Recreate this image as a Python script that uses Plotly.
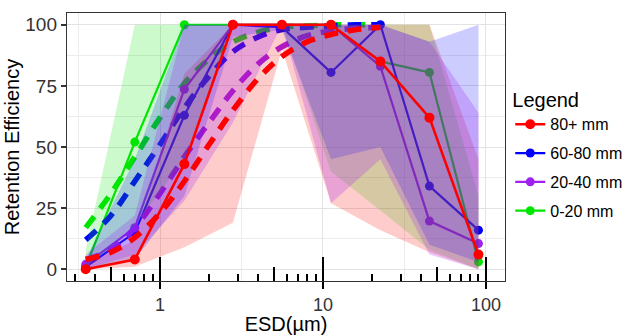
import plotly.graph_objects as go

# ---------------- data ----------------
esd = [0.35, 0.7, 1.41, 2.8, 5.6, 11.2, 22.5, 45, 90]

red_mean = [0, 4, 43, 100, 100, 100, 85, 62, 6]
blue_mean = [1, 15, 63, 100, 99, 80.5, 100, 34, 16]
purple_mean = [2, 17, 73.6, 100, 100, 100, 83, 19.7, 10.5]
green_mean = [1, 52, 100, 100, 100, 100, 85, 80.5, 3]

red_low = [0, 1, 9, 19, 90, 27, 16, 7, 0]
red_high = [2, 12, 80, 100, 100, 100, 100, 100, 45]
blue_low = [0, 4, 30, 95, 98, 45, 50, 10, 3]
blue_high = [4, 45, 100, 100, 100, 100, 100, 93, 100]
purple_low = [0, 6, 28, 60, 100, 27, 45, 6, 0]
purple_high = [6, 22, 100, 100, 100, 100, 100, 93, 64]
green_low = [0, 18, 45, 100, 100, 40, 24, 8, 0]
green_high = [8, 100, 100, 100, 100, 100, 100, 100, 30]

fit_x = [0.35, 0.5, 0.7, 1.0, 1.41, 2.0, 2.8, 4.0, 5.6, 8.0, 11.2, 16, 22.5]
green_fit = [17, 31, 46, 62, 76, 86, 93, 97, 99, 99.5, 100, 100, 100]
blue_fit = [12, 22, 36, 51, 66, 79, 89, 95, 98, 99, 99.5, 100, 100]
purple_fit = [4, 8, 17, 31, 46, 60, 73, 84, 91, 95.5, 97.5, 98.5, 99]
red_fit = [4, 7, 13, 23, 36, 51, 65, 78, 87, 93, 96, 98, 99]

x_major = [1, 10, 100]
x_labels = ["1", "10", "100"]
x_mid = [0.5, 5, 50]
x_short = [0.3, 0.4, 0.6, 0.7, 0.8, 0.9, 2, 3, 4, 6, 7, 8, 9, 20, 30, 40, 60, 70, 80, 90]
x_minor_grid = [0.3162, 3.162, 31.62]
y_major = [0, 25, 50, 75, 100]
y_minor_grid = [12.5, 37.5, 62.5, 87.5]

# ---------------- styles ----------------
FONT = "Liberation Sans, Arial, sans-serif"
series = {
    "80+ mm": dict(color="#ff0000", fill="rgba(255,0,0,0.2)", mean=red_mean,
                   low=red_low, high=red_high, fit=red_fit, rank=1, lw=2.6, ms=10),
    "60-80 mm": dict(color="#0000ff", fill="rgba(0,0,255,0.2)", mean=blue_mean,
                     low=blue_low, high=blue_high, fit=blue_fit, rank=2, lw=2.2, ms=9),
    "20-40 mm": dict(color="#a020f0", fill="rgba(160,32,240,0.24)", mean=purple_mean,
                     low=purple_low, high=purple_high, fit=purple_fit, rank=3, lw=2.2, ms=9),
    "0-20 mm": dict(color="#00e600", fill="rgba(0,230,0,0.2)", mean=green_mean,
                    low=green_low, high=green_high, fit=green_fit, rank=4, lw=2.2, ms=9),
}

fig = go.Figure()


def add_lines(name):
    s = series[name]
    fig.add_trace(go.Scatter(
        x=fit_x, y=s["fit"], mode="lines", line=dict(color=s["color"], width=5.5,
                                                      dash="14px,10px", shape="spline"),
        showlegend=False, hoverinfo="skip"))
    fig.add_trace(go.Scatter(
        x=esd, y=s["mean"], mode="lines+markers", name=name,
        line=dict(color=s["color"], width=s["lw"]),
        marker=dict(color=s["color"], size=s["ms"]),
        legendrank=s["rank"], legendgroup=name))


for nm in ["0-20 mm", "60-80 mm", "20-40 mm"]:
    add_lines(nm)

for nm in ["0-20 mm", "80+ mm", "60-80 mm", "20-40 mm"]:
    s = series[nm]
    fig.add_trace(go.Scatter(
        x=esd + esd[::-1], y=s["high"] + s["low"][::-1], mode="none",
        fill="toself", fillcolor=s["fill"], showlegend=False, hoverinfo="skip"))

add_lines("80+ mm")

# invisible carriers so the overlay (log-tick) axes get drawn
for ax, vals in (("x2", x_major), ("x3", x_mid)):
    fig.add_trace(go.Scatter(x=vals, y=[50] * len(vals), xaxis=ax, yaxis="y",
                             mode="markers", marker=dict(opacity=0), showlegend=False,
                             hoverinfo="skip"))

xr = [-0.571, 2.117]
fig.update_layout(
    width=626, height=335,
    margin=dict(l=67, r=121, t=13, b=54, autoexpand=False),
    paper_bgcolor="white", plot_bgcolor="white",
    font=dict(family=FONT, color="#000000"),
    legend=dict(
        title=dict(text="Legend", font=dict(size=20, family=FONT, color="#000")),
        font=dict(size=16, family=FONT, color="#000"),
        x=1.012, xanchor="left", y=0.745, yanchor="top",
        tracegroupgap=5, traceorder="grouped", bgcolor="rgba(0,0,0,0)"),
    xaxis=dict(
        type="log", range=xr, tickmode="array", tickvals=x_major, ticktext=x_labels,
        ticks="outside", ticklen=7, tickwidth=2, tickcolor="#000",
        tickfont=dict(size=18, color="#333333", family=FONT), automargin=False,
        title=dict(text="ESD(µm)", font=dict(size=20, family=FONT), standoff=4),
        showgrid=True, gridcolor="#e3e3e3", gridwidth=1.3,
        minor=dict(tickmode="array", tickvals=x_minor_grid, ticks="",
                   showgrid=True, gridcolor="#ececec", gridwidth=0.9),
        showline=True, mirror=True, linecolor="#333333", linewidth=1.4, zeroline=False),
    xaxis2=dict(
        type="log", range=xr, overlaying="x", anchor="y", side="bottom", automargin=False,
        tickmode="array", tickvals=x_major, ticks="inside", ticklen=24, tickwidth=2,
        tickcolor="#000", showticklabels=False, showgrid=False, showline=False, zeroline=False,
        minor=dict(tickmode="array", tickvals=x_short, ticks="inside", ticklen=7,
                   tickwidth=1.6, tickcolor="#000", showgrid=False)),
    xaxis3=dict(
        type="log", range=xr, overlaying="x", anchor="y", side="bottom", automargin=False,
        tickmode="array", tickvals=x_mid, ticks="inside", ticklen=14, tickwidth=1.6,
        tickcolor="#000", showticklabels=False, showgrid=False, showline=False, zeroline=False),
    yaxis=dict(
        range=[-4.8, 104.8], tickmode="array", tickvals=y_major,
        ticks="outside", ticklen=5, tickwidth=1.5, tickcolor="#333333",
        tickfont=dict(size=19, color="#333333", family=FONT), automargin=False,
        title=dict(text="Retention Efficiency", font=dict(size=20, family=FONT), standoff=0),
        showgrid=True, gridcolor="#e3e3e3", gridwidth=1.3,
        minor=dict(tickmode="array", tickvals=y_minor_grid, ticks="",
                   showgrid=True, gridcolor="#ececec", gridwidth=0.9),
        showline=True, mirror=True, linecolor="#333333", linewidth=1.4, zeroline=False),
)

fig.write_html("out.html", post_script="document.body.style.margin='0px';",
               config={"displayModeBar": False})
